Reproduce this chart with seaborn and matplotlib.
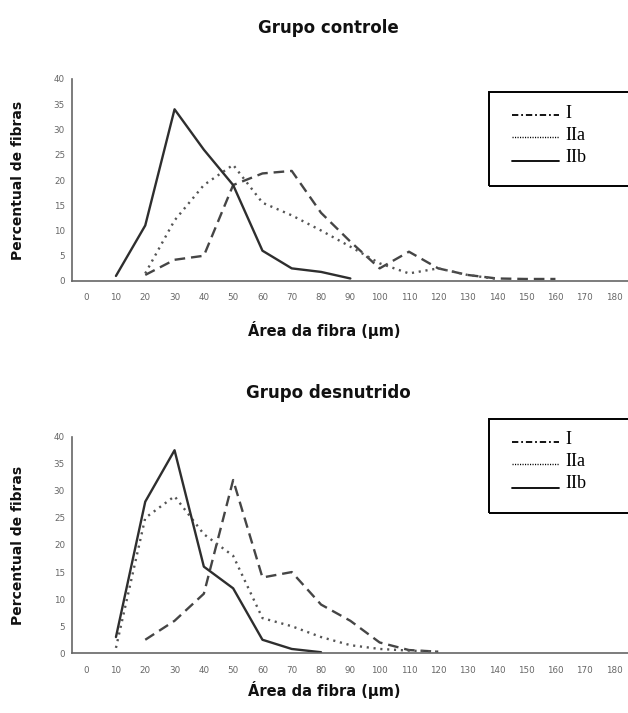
import numpy as np
import pandas as pd
import seaborn as sns
import matplotlib
matplotlib.use("Agg")
import matplotlib.pyplot as plt
from matplotlib.lines import Line2D
from matplotlib.patches import Rectangle

sns.set_style("white")
plt.rcParams["font.family"] = ["DejaVu Sans"]

nan = np.nan
categories = [0, 10, 20, 30, 40, 50, 60, 70, 80, 90, 100, 110, 120, 130, 140, 150, 160, 170, 180]
tick_labels = [str(c) for c in categories]
yticks = [0, 5, 10, 15, 20, 25, 30, 35, 40]
series_names = ["I", "IIa", "IIb"]

ctrl_I = [nan, nan, 1.2, 4.2, 5.0, 19.0, 21.3, 21.8, 13.5, 7.8, 2.5, 5.8, 2.5, 1.2, 0.5, 0.4, 0.4, nan, nan]
ctrl_IIa = [nan, nan, 1.5, 12.0, 19.0, 23.0, 15.5, 13.0, 10.0, 6.8, 3.5, 1.5, 2.5, 1.2, 0.4, nan, nan, nan, nan]
ctrl_IIb = [nan, 1.0, 11.0, 34.0, 26.0, 19.0, 6.0, 2.5, 1.8, 0.5, nan, nan, nan, nan, nan, nan, nan, nan, nan]

desn_I = [nan, nan, 2.5, 6.0, 11.0, 32.0, 14.0, 15.0, 9.0, 6.0, 2.0, 0.6, 0.3, nan, nan, nan, nan, nan, nan]
desn_IIa = [nan, 1.0, 25.0, 29.0, 22.0, 18.0, 6.5, 5.0, 3.0, 1.5, 0.8, 0.5, 0.3, nan, nan, nan, nan, nan, nan]
desn_IIb = [nan, 3.0, 28.0, 37.5, 16.0, 12.0, 2.5, 0.8, 0.2, nan, nan, nan, nan, nan, nan, nan, nan, nan, nan]

titles = ["Grupo controle", "Grupo desnutrido"]
ylabel = "Percentual de fibras"
xlabel = "Área da fibra (µm)"


def long_df(I, IIa, IIb):
    frames = []
    for name, vals in zip(series_names, [I, IIa, IIb]):
        frames.append(pd.DataFrame({"x": categories, "y": vals, "Tipo": name}))
    return pd.concat(frames).dropna()


W, H = 628, 713
fig = plt.figure(figsize=(W / 100, H / 100), dpi=100)

def fx(px):
    return px / W

def fy(py):
    return 1 - py / H

panels = [
    dict(data=long_df(ctrl_I, ctrl_IIa, ctrl_IIb), top=79, bottom=281, title_y=28,
         xlab_y=330, leg_top=92),
    dict(data=long_df(desn_I, desn_IIa, desn_IIb), top=436.7, bottom=653.3, title_y=393,
         xlab_y=690, leg_top=419),
]

left_px = 72
cat_w = 29.3
width_px = cat_w * 19

dashes = {"I": (4.5, 2.5), "IIa": (0.9, 2.0), "IIb": ""}

for p, title in zip(panels, titles):
    ax = fig.add_axes([fx(left_px), fy(p["bottom"]), fx(width_px), (p["bottom"] - p["top"]) / H])
    sns.lineplot(data=p["data"], x="x", y="y", style="Tipo", dashes=dashes,
                 hue="Tipo", palette={"I": "#454545", "IIa": "#555555", "IIb": "#2e2e2e"},
                 linewidth=1.7, ax=ax, legend=False, sort=False)
    for ln in ax.lines:
        ln.set_solid_joinstyle("round")
        ln.set_dash_joinstyle("round")
    ax.set_xlim(-5, 185)
    ax.set_ylim(0, 40)
    ax.set_xticks(categories)
    ax.set_xticklabels(tick_labels)
    ax.set_xticks([c + 5 for c in categories[:-1]], minor=True)
    ax.set_yticks(yticks)
    ax.tick_params(axis="x", which="major", length=0, pad=9, labelsize=6.3, labelcolor="#666666")
    ax.tick_params(axis="x", which="minor", length=3, width=1, color="#666666", direction="out")
    ax.tick_params(axis="y", which="major", length=3, width=1, color="#666666", direction="out",
                   pad=2, labelsize=6.3, labelcolor="#666666")
    ax.set_xlabel("")
    ax.set_ylabel("")
    for s in ["top", "right"]:
        ax.spines[s].set_visible(False)
    for s in ["left", "bottom"]:
        ax.spines[s].set_color("#666666")
        ax.spines[s].set_linewidth(1.2)

    fig.text(fx(328), fy(p["title_y"]), title, ha="center", va="center",
             fontsize=12, fontweight="bold", color="#111111")
    fig.text(fx(324), fy(p["xlab_y"]), xlabel, ha="center", va="center",
             fontsize=10.5, fontweight="bold", color="#111111")
    fig.text(fx(18), fy((p["top"] + p["bottom"]) / 2), ylabel, ha="center", va="center",
             rotation=90, fontsize=10, fontweight="bold", color="#111111")

    # legend box
    lt = p["leg_top"]
    fig.add_artist(Rectangle((fx(488.5), fy(lt + 94)), fx(160), 94 / H, transform=fig.transFigure,
                             fill=False, edgecolor="black", linewidth=1.4))
    rows = [lt + 21, lt + 43, lt + 65]
    styles = [dict(dashes=(3.5, 1.6, 1.0, 1.6), lw=1.3),
              dict(dashes=(0.8, 1.0), lw=1.0),
              dict(dashes=None, lw=1.3)]
    for name, ry, st in zip(series_names, rows, styles):
        ly = ry + 2 + (2 if name == "IIb" else 0)
        ln = Line2D([fx(512), fx(559)], [fy(ly), fy(ly)], transform=fig.transFigure,
                    color="black", linewidth=st["lw"])
        if st["dashes"]:
            ln.set_dashes(st["dashes"])
        fig.add_artist(ln)
        fig.text(fx(565), fy(ry), name, ha="left", va="center", fontsize=13,
                 family="Liberation Serif", color="black")

fig.savefig("out.png", dpi=100)
